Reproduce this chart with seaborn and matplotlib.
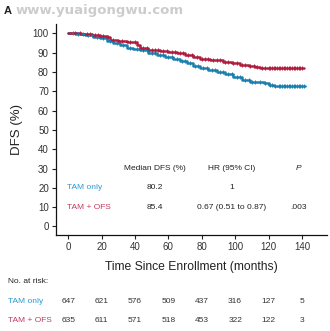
import numpy as np
import pandas as pd
import matplotlib
matplotlib.use("Agg")
import matplotlib.pyplot as plt
import matplotlib.transforms as mtransforms
import seaborn as sns

# Kaplan-Meier step points (months, DFS %)
tam_t = [0, 5, 10, 15, 19, 23, 27, 31, 35, 39, 43, 48, 53, 58, 63, 67, 71, 75, 79,
         84, 89, 94, 99, 104, 109, 113, 117, 120, 123, 142]
tam_s = [100, 99.6, 99.0, 98.3, 97.6, 96.3, 95.0, 93.8, 92.7, 92.0, 91.3, 90.0, 88.9,
         87.8, 86.9, 85.8, 84.5, 83.0, 81.9, 81.0, 80.1, 79.0, 77.5, 76.0, 74.9, 74.6,
         74.1, 73.3, 72.7, 72.7]
ofs_t = [0, 8, 14, 19, 23, 25, 30, 35, 41, 43, 48, 55, 60, 65, 70, 75, 79, 85, 93, 98,
         103, 108, 112, 115, 141]
ofs_s = [100, 99.7, 99.2, 98.5, 97.9, 96.7, 96.0, 95.5, 94.1, 92.7, 91.6, 91.0, 90.2,
         89.8, 88.9, 88.0, 87.0, 86.3, 85.3, 84.5, 83.6, 83.0, 82.4, 81.9, 81.9]

# Censoring times (months)
tam_cens = [3, 6, 9, 12, 14, 17, 21, 25, 29, 33, 37, 41, 45, 47, 50, 52, 55, 57, 60, 62,
            65, 68, 70, 73, 76, 78, 81, 83, 86, 88, 91, 93, 96, 98, 101, 103, 106, 108,
            110, 112, 115, 118, 121, 122, 124, 126, 127, 128, 129, 130, 131, 132, 133,
            134, 135, 136, 137, 138, 139, 140, 141]
ofs_cens = [4, 7, 11, 13, 16, 18, 21, 24, 27, 32, 37, 40, 45, 47, 50, 52, 54, 57, 59,
            62, 64, 67, 69, 72, 74, 77, 80, 82, 84, 87, 89, 91, 94, 96, 99, 101, 104,
            106, 109, 111, 113, 116, 118, 120, 121, 122, 123, 124, 125, 126, 127, 128,
            129, 130, 131, 132, 133, 134, 135, 136, 137, 138, 139, 140]

groups = ["TAM only", "TAM + OFS"]
median_dfs = ["80.2", "85.4"]
hr_ci = ["1", "0.67 (0.51 to 0.87)"]
p_values = ["", ".003"]

risk_times = [0, 20, 40, 60, 80, 100, 120, 140]
risk_tam = [647, 621, 576, 509, 437, 316, 127, 5]
risk_ofs = [635, 611, 571, 518, 453, 322, 122, 3]

xticks = [0, 20, 40, 60, 80, 100, 120, 140]
yticks = [0, 10, 20, 30, 40, 50, 60, 70, 80, 90, 100]

line_colors = ["#1b7fad", "#b01c3e"]
text_colors = ["#2b9bd3", "#c83a5e"]

sns.set_theme(style="ticks")
plt.rcParams["font.family"] = ["Liberation Sans", "DejaVu Sans"]

fig = plt.figure(figsize=(3.30, 3.31), dpi=100)
ax = fig.add_axes([0.169, 0.289, 0.822, 0.638])


def step_value(times, surv, t):
    idx = np.searchsorted(times, t, side="right") - 1
    return surv[idx]


series = [(tam_t, tam_s, tam_cens), (ofs_t, ofs_s, ofs_cens)]
for (t, s, cens), col, name in zip(series, line_colors, groups):
    df = pd.DataFrame({"time": t, "dfs": s})
    sns.lineplot(data=df, x="time", y="dfs", ax=ax, color=col, lw=1.8,
                 drawstyle="steps-post", estimator=None, sort=False)
    cdf = pd.DataFrame({"time": cens,
                        "dfs": [step_value(t, s, c) for c in cens]})
    sns.scatterplot(data=cdf, x="time", y="dfs", ax=ax, color=col, marker="+",
                    s=10, linewidth=0.7, zorder=3)

ax.set_xlim(-7.4, 155)
ax.set_ylim(-4.6, 104.8)
ax.set_xticks(xticks)
ax.set_yticks(yticks)
ax.tick_params(axis="both", labelsize=7, length=3, width=0.8, colors="#222222",
               labelcolor="#333333", pad=2)
for side in ("top", "right"):
    ax.spines[side].set_visible(False)
for side in ("left", "bottom"):
    ax.spines[side].set_linewidth(0.9)
    ax.spines[side].set_color("#111111")

ax.set_xlabel("Time Since Enrollment (months)", fontsize=8.7, color="#222222",
              labelpad=6)
ax.set_ylabel("DFS (%)", fontsize=9.5, color="#222222", labelpad=7)

# Summary table inside the plot
tfs = 6
ax.text(52, 30, "Median DFS (%)", ha="center", va="center", fontsize=tfs, color="#222222")
ax.text(98, 30, "HR (95% CI)", ha="center", va="center", fontsize=tfs, color="#222222")
ax.text(138, 30, "P", ha="center", va="center", fontsize=tfs, color="#222222",
        style="italic")
for yv, g, m, h, p, tc in zip([20, 10], groups, median_dfs, hr_ci, p_values, text_colors):
    ax.text(-0.5, yv, g, ha="left", va="center", fontsize=tfs, color=tc)
    ax.text(52, yv, m, ha="center", va="center", fontsize=tfs, color="#222222")
    ax.text(98, yv, h, ha="center", va="center", fontsize=tfs, color="#222222")
    ax.text(138, yv, p, ha="center", va="center", fontsize=tfs, color="#222222")

# Number at risk
blend = mtransforms.blended_transform_factory(ax.transData, fig.transFigure)
fig.text(0.024, 0.149, "No. at risk:", ha="left", va="center", fontsize=tfs,
         color="#222222")
for yf, g, counts, tc in zip([0.0885, 0.032], groups, [risk_tam, risk_ofs], text_colors):
    fig.text(0.024, yf, g, ha="left", va="center", fontsize=tfs, color=tc)
    for tx, n in zip(risk_times, counts):
        ax.text(tx, yf, str(n), transform=blend, ha="center", va="center",
                fontsize=tfs, color="#333333", clip_on=False)

fig.text(0.012, 0.968, "A", ha="left", va="center", fontsize=8, fontweight="bold",
         color="#222222")
fig.text(0.048, 0.968, "www.yuaigongwu.com", ha="left", va="center", fontsize=9.5,
         fontweight="bold", color="#cccccc", family="DejaVu Sans")

fig.savefig("out.png", dpi=100)
